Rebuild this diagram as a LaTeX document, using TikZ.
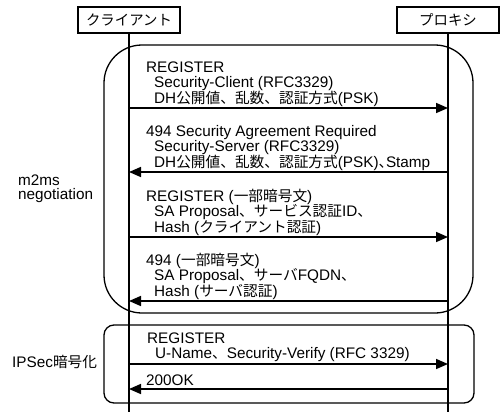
\documentclass[tikz,border=0pt]{standalone}
\usepackage{fontspec}
\setmainfont{Liberation Sans}
\newfontfamily\jpfont[Scale=0.96]{Noto Sans CJK JP}
\newfontfamily\jphalf[Scale=0.96,RawFeature=+halt]{Noto Sans CJK JP}
\newcommand\jp[1]{{\jpfont #1}}
\newcommand\jph[1]{{\jphalf #1}}
\usetikzlibrary{arrows.meta}
\begin{document}
\begin{tikzpicture}[x=1pt,y=-1pt,
  font=\fontsize{15.3}{16}\selectfont,
  hdr/.style={draw, line width=1.3pt, minimum width=102pt, minimum height=26pt, inner sep=0pt, font=\fontsize{15}{16}\selectfont},
  life/.style={line width=1.3pt},
  grp/.style={draw, line width=1.3pt, inner sep=0pt},
  msgline/.style={anchor=base west, inner sep=0pt},
  arr/.style={line width=1.6pt, -{Triangle[length=12pt,width=10pt]}},
  lbl/.style={anchor=base west, inner sep=0pt}]
\useasboundingbox (0,0) rectangle (500,412);

% group frames
\node[grp, rounded corners=38pt, minimum width=369pt, minimum height=268pt] (neg) at (288.5,179) {};
\node[grp, rounded corners=10pt, minimum width=370pt, minimum height=78pt] (ips) at (289,364) {};

% headers and lifelines
\node[hdr] (cl) at (129,20) {\jp{クライアント}};
\node[hdr] (px) at (448,20) {\jp{プロキシ}};
\coordinate (clend) at (129,412);
\coordinate (pxend) at (448,412);
\draw[life] (cl.south) -- (clend);
\draw[life] (px.south) -- (pxend);

% group labels
\node[lbl] (l1a) at (18,185) {m2ms};
\node[lbl] (l1b) at (18,199.5) {negotiation};
\node[lbl] (l2) at (12,367) {IPSec\jp{暗号化}};

% message 1
\node[msgline] (m1a) at (146,72) {REGISTER};
\node[msgline] (m1b) at (154,87.5) {Security-Client (RFC3329)};
\node[msgline] (m1c) at (154,103) {DH\jp{公開値、乱数、認証方式}(PSK)};
\coordinate (a1s) at (129,108); \coordinate (a1e) at (448,108);
\draw[arr] (a1s) -- (a1e);

% message 2
\node[msgline] (m2a) at (146,136) {494 Security Agreement Required};
\node[msgline] (m2b) at (154,151.5) {Security-Server (RFC3329)};
\node[msgline] (m2c) at (154,167) {DH\jp{公開値、乱数、認証方式}(PSK)\jph{、}Stamp};
\coordinate (a2s) at (448,172); \coordinate (a2e) at (129,172);
\draw[arr] (a2s) -- (a2e);

% message 3
\node[msgline] (m3a) at (146,201) {REGISTER (\jp{一部暗号文})};
\node[msgline] (m3b) at (154,216.5) {SA Proposal\jp{、サービス認証}ID\jp{、}};
\node[msgline] (m3c) at (154,232) {Hash (\jp{クライアント認証})};
\coordinate (a3s) at (129,237); \coordinate (a3e) at (448,237);
\draw[arr] (a3s) -- (a3e);

% message 4
\node[msgline] (m4a) at (146,265) {494 (\jp{一部暗号文})};
\node[msgline] (m4b) at (154,280.5) {SA Proposal\jp{、サーバ}FQDN\jp{、}};
\node[msgline] (m4c) at (154,296) {Hash (\jp{サーバ認証})};
\coordinate (a4s) at (448,301); \coordinate (a4e) at (129,301);
\draw[arr] (a4s) -- (a4e);

% message 5
\node[msgline] (m5a) at (147,343) {REGISTER};
\node[msgline] (m5b) at (155,358.5) {U-Name\jp{、}Security-Verify (RFC 3329)};
\coordinate (a5s) at (129,364); \coordinate (a5e) at (448,364);
\draw[arr] (a5s) -- (a5e);

% message 6
\node[msgline] (m6a) at (146,385.5) {200OK};
\coordinate (a6s) at (448,389); \coordinate (a6e) at (129,389);
\draw[arr] (a6s) -- (a6e);
\end{tikzpicture}
\end{document}
